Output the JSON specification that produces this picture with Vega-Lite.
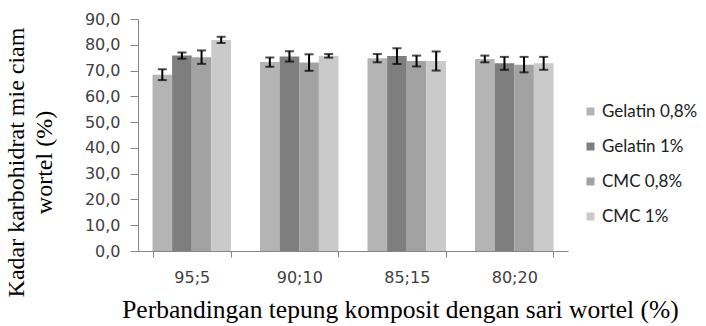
{
  "$schema": "https://vega.github.io/schema/vega-lite/v6.json",
  "width": 430,
  "height": 232,
  "autosize": "none",
  "padding": {"left": 138, "top": 19, "right": 138, "bottom": 75},
  "background": "white",
  "config": {"view": {"stroke": null}},
  "data": {
    "values": [
      {"rasio": "95;5", "perlakuan": "Gelatin 0,8%", "nilai": 68.4, "sd": 2.1},
      {"rasio": "95;5", "perlakuan": "Gelatin 1%", "nilai": 75.8, "sd": 1.2},
      {"rasio": "95;5", "perlakuan": "CMC 0,8%", "nilai": 75.2, "sd": 2.6},
      {"rasio": "95;5", "perlakuan": "CMC 1%", "nilai": 81.9, "sd": 1.2},
      {"rasio": "90;10", "perlakuan": "Gelatin 0,8%", "nilai": 73.3, "sd": 1.8},
      {"rasio": "90;10", "perlakuan": "Gelatin 1%", "nilai": 75.5, "sd": 2.0},
      {"rasio": "90;10", "perlakuan": "CMC 0,8%", "nilai": 73.1, "sd": 3.2},
      {"rasio": "90;10", "perlakuan": "CMC 1%", "nilai": 75.7, "sd": 0.7},
      {"rasio": "85;15", "perlakuan": "Gelatin 0,8%", "nilai": 74.8, "sd": 1.6},
      {"rasio": "85;15", "perlakuan": "Gelatin 1%", "nilai": 75.6, "sd": 3.1},
      {"rasio": "85;15", "perlakuan": "CMC 0,8%", "nilai": 73.7, "sd": 2.1},
      {"rasio": "85;15", "perlakuan": "CMC 1%", "nilai": 73.7, "sd": 3.7},
      {"rasio": "80;20", "perlakuan": "Gelatin 0,8%", "nilai": 74.5, "sd": 1.3},
      {"rasio": "80;20", "perlakuan": "Gelatin 1%", "nilai": 72.8, "sd": 2.5},
      {"rasio": "80;20", "perlakuan": "CMC 0,8%", "nilai": 72.3, "sd": 3.0},
      {"rasio": "80;20", "perlakuan": "CMC 1%", "nilai": 72.8, "sd": 2.5}
    ]
  },
  "encoding": {
    "x": {
      "field": "rasio",
      "type": "nominal",
      "sort": ["95;5", "90;10", "85;15", "80;20"],
      "scale": {"paddingInner": 0.27, "paddingOuter": 0.135},
      "axis": {
        "title": "Perbandingan tepung komposit dengan sari wortel (%)",
        "titleFont": "Liberation Serif",
        "titleFontSize": 25.5,
        "titleFontWeight": "normal",
        "titleColor": "#000000",
        "titleX": 262,
        "titleY": 46,
        "titleBaseline": "top",
        "labelAngle": 0,
        "labelFont": "DejaVu Sans",
        "labelFontSize": 16,
        "labelColor": "#404040",
        "labelPadding": 12,
        "domainColor": "#868686",
        "tickColor": "#868686",
        "tickBand": "extent",
        "tickSize": 6
      }
    },
    "xOffset": {
      "field": "perlakuan",
      "type": "nominal",
      "sort": ["Gelatin 0,8%", "Gelatin 1%", "CMC 0,8%", "CMC 1%"],
      "scale": {"paddingInner": 0, "paddingOuter": 0}
    },
    "y": {
      "field": "nilai",
      "type": "quantitative",
      "scale": {"domain": [0, 90]},
      "axis": {
        "values": [0, 10, 20, 30, 40, 50, 60, 70, 80, 90],
        "labelOverlap": false,
        "labelExpr": "replace(format(datum.value, '.1f'), '.', ',')",
        "title": ["Kadar karbohidrat mie ciam", "wortel (%)"],
        "titleFont": "Liberation Serif",
        "titleFontSize": 24,
        "titleFontWeight": "normal",
        "titleColor": "#000000",
        "titleLineHeight": 28,
        "titleX": -110,
        "titleY": 143,
        "grid": false,
        "labelFont": "DejaVu Sans",
        "labelFontSize": 16,
        "labelColor": "#404040",
        "labelPadding": 10,
        "domainColor": "#868686",
        "tickColor": "#868686",
        "tickSize": 8
      }
    }
  },
  "layer": [
    {
      "mark": {"type": "bar"},
      "encoding": {
        "color": {
          "field": "perlakuan",
          "type": "nominal",
          "sort": ["Gelatin 0,8%", "Gelatin 1%", "CMC 0,8%", "CMC 1%"],
          "scale": {"range": ["#b4b4b4", "#7e7e7e", "#a2a2a2", "#cacaca"]},
          "legend": {
            "title": null,
            "orient": "none",
            "legendX": 444,
            "legendY": 84,
            "padding": 0,
            "symbolType": "square",
            "symbolSize": 64,
            "symbolStrokeWidth": 0,
            "labelFont": "Lato",
            "labelFontSize": 17,
            "labelColor": "#202020",
            "labelOffset": 3,
            "rowPadding": 17
          }
        }
      }
    },
    {
      "mark": {"type": "errorbar", "ticks": {"size": 9, "thickness": 2, "color": "#000000"}, "rule": {"strokeWidth": 2, "color": "#000000"}},
      "encoding": {
        "yError": {"field": "sd"}
      }
    }
  ]
}
